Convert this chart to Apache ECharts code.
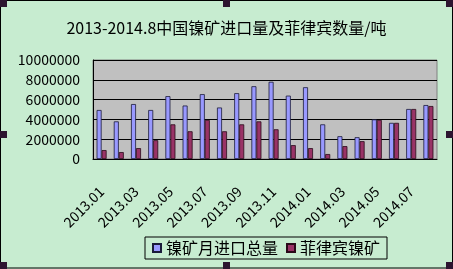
<!DOCTYPE html>
<html>
<head>
<meta charset="utf-8">
<script src="https://cdn.jsdelivr.net/npm/echarts@6/dist/echarts.min.js"></script>
<style>html,body{margin:0;padding:0;background:#c7ecd0;}#c{width:453px;height:269px;}</style>
</head>
<body>
<div id="c"></div>
<script>
var categories = ['2013.01','2013.02','2013.03','2013.04','2013.05','2013.06','2013.07','2013.08','2013.09','2013.10','2013.11','2013.12','2014.01','2014.02','2014.03','2014.04','2014.05','2014.06','2014.07','2014.08'];
var totalImports = [4950000,3800000,5550000,4950000,6350000,5400000,6550000,5200000,6650000,7350000,7800000,6400000,7250000,3500000,2300000,2200000,4000000,3650000,5050000,5450000];
var philippines = [900000,700000,1100000,1900000,3500000,2800000,3950000,2800000,3500000,3800000,3000000,1400000,1100000,500000,1300000,1800000,3950000,3650000,5050000,5350000];
var seriesNames = ['镍矿月进口总量','菲律宾镍矿'];
var titleText = '2013-2014.8中国镍矿进口量及菲律宾数量/吨';

var FONT = '"Noto Sans CJK SC", sans-serif';
var chart = echarts.init(document.getElementById('c'), null, {renderer:'canvas'});
function handle(x,y){return {type:'rect',shape:{x:x,y:y,width:7,height:7},style:{fill:'#2d1530'},z:100};}
chart.setOption({
  backgroundColor:'#c7ecd0',
  animation:false,
  title:{text:titleText,left:'center',top:15,textStyle:{fontFamily:FONT,fontSize:16,fontWeight:'normal',color:'#000'}},
  grid:{left:93,right:16,top:60,bottom:110,show:true,backgroundColor:'#c0c0c0',borderColor:'#808080',borderWidth:1},
  legend:{left:145,top:237,padding:[3,7],itemGap:8,itemWidth:8,itemHeight:8,borderColor:'#000',borderWidth:1,
    textStyle:{fontFamily:FONT,fontSize:16,color:'#000',lineHeight:16},data:seriesNames,icon:'rect'},
  xAxis:{type:'category',data:categories,
    axisLine:{lineStyle:{color:'#000',width:1}},
    axisTick:{inside:true,length:3,lineStyle:{color:'#000'}},
    axisLabel:{interval:1,rotate:45,margin:30,fontFamily:FONT,fontSize:14,color:'#000'}},
  yAxis:{type:'value',min:0,max:10000000,interval:2000000,
    axisLine:{show:true,lineStyle:{color:'#000'}},axisTick:{show:false},
    splitLine:{lineStyle:{color:'#000',width:1}},
    axisLabel:{margin:13,fontFamily:FONT,fontSize:14,color:'#000',formatter:function(v){return String(v);}}},
  series:[
    {name:seriesNames[0],type:'bar',data:totalImports,barWidth:5,barGap:'0%',itemStyle:{color:'#9999ff',borderColor:'#1a1a3a',borderWidth:0.8}},
    {name:seriesNames[1],type:'bar',data:philippines,barWidth:5,barGap:'0%',itemStyle:{color:'#993366',borderColor:'#2a0a1a',borderWidth:0.8}}
  ],
  graphic:[
    {type:'rect',shape:{x:0.5,y:0.5,width:452,height:267.5},style:{fill:null,stroke:'#000',lineWidth:1},z:99},
    handle(0,0),handle(223,0),handle(446,0),
    handle(0,131),handle(446,131),
    handle(0,262),handle(223,262),handle(446,262)
  ]
});
</script>
</body>
</html>
